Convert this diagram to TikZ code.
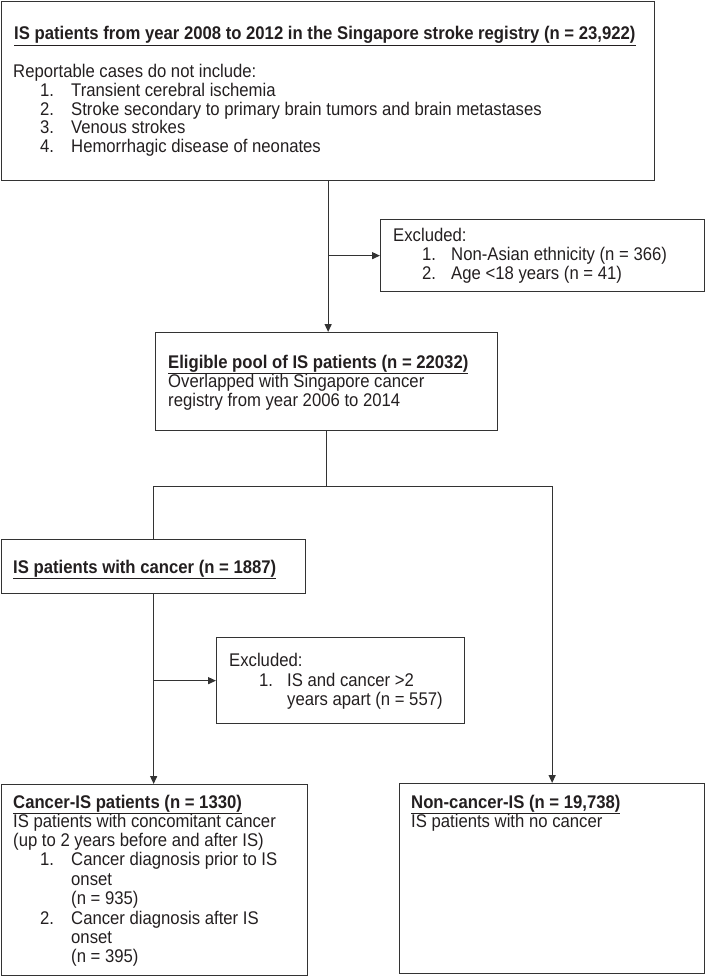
\documentclass[tikz,border=0pt]{standalone}
\usepackage{fontspec}
\setmainfont[FakeStretch=0.91]{Liberation Sans}
\usetikzlibrary{arrows.meta,calc}
\definecolor{linec}{HTML}{333333}
\definecolor{txtc}{HTML}{231F20}
\begin{document}
\begin{tikzpicture}[x=1pt,y=-1pt,
  box/.style={draw=linec, line width=1.3pt, inner sep=0pt, anchor=north west},
  txt/.style={anchor=base west, inner sep=0pt, text=txtc, font=\fontsize{18.35}{19}\selectfont},
  ttl/.style={txt, font=\fontsize{18.35}{19}\selectfont\bfseries},
  conn/.style={draw=linec, line width=1.3pt},
  arr/.style={conn, -{Triangle[length=8pt,width=7pt]}}]
\useasboundingbox (0,0) rectangle (705,976);
% boxes
\node[box, minimum width=653pt, minimum height=179pt] (b1) at (1,1) {};
\node[box, minimum width=324pt, minimum height=72pt] (ex1) at (380,219) {};
\node[box, minimum width=342pt, minimum height=98pt] (b2) at (155,332) {};
\node[box, minimum width=304pt, minimum height=54pt] (can) at (1,539) {};
\node[box, minimum width=248pt, minimum height=86pt] (ex2) at (216,637) {};
\node[box, minimum width=306pt, minimum height=191pt] (cis) at (1,784) {};
\node[box, minimum width=305pt, minimum height=190pt] (ncis) at (399,783) {};
% top box text
\node[ttl] (t1) at (14,40) {\underline{IS patients from year 2008 to 2012 in the Singapore stroke registry (n = 23,922)}};
\node[txt] (t2) at (13,78) {Reportable cases do not include:};
\node[txt] (n1) at (40,97) {1.};
\node[txt] (i1) at (71,97) {Transient cerebral ischemia};
\node[txt] (n2) at (40,115.5) {2.};
\node[txt] (i2) at (71,115.5) {Stroke secondary to primary brain tumors and brain metastases};
\node[txt] (n3) at (40,134) {3.};
\node[txt] (i3) at (71,134) {Venous strokes};
\node[txt] (n4) at (40,153) {4.};
\node[txt] (i4) at (71,153) {Hemorrhagic disease of neonates};
% excluded 1
\node[txt] (e1) at (393,241) {Excluded:};
\node[txt] (e1n1) at (422,260) {1.};
\node[txt] (e1i1) at (451,260) {Non-Asian ethnicity (n = 366)};
\node[txt] (e1n2) at (422,279) {2.};
\node[txt] (e1i2) at (451,279) {Age <18 years (n = 41)};
% eligible pool
\node[ttl] (p1) at (168,368) {\underline{Eligible pool of IS patients (n = 22032)}};
\node[txt] (p2) at (168,387) {Overlapped with Singapore cancer};
\node[txt] (p3) at (168,406) {registry from year 2006 to 2014};
% with cancer
\node[ttl] (c1) at (13,573) {\underline{IS patients with cancer (n = 1887)}};
% excluded 2
\node[txt] (e2) at (229,666) {Excluded:};
\node[txt] (e2n1) at (259,686) {1.};
\node[txt] (e2i1) at (287,686) {IS and cancer >2};
\node[txt] (e2i2) at (287,705) {years apart (n = 557)};
% cancer-IS
\node[ttl] (k1) at (13,808) {\underline{Cancer-IS patients (n = 1330)}};
\node[txt] (k2) at (13,827) {IS patients with concomitant cancer};
\node[txt] (k3) at (13,846) {(up to 2 years before and after IS)};
\node[txt] (kn1) at (40,865) {1.};
\node[txt] (ki1) at (71,865) {Cancer diagnosis prior to IS};
\node[txt] (ki2) at (71,885) {onset};
\node[txt] (ki3) at (71,904) {(n = 935)};
\node[txt] (kn2) at (40,924) {2.};
\node[txt] (ki4) at (71,924) {Cancer diagnosis after IS};
\node[txt] (ki5) at (71,943) {onset};
\node[txt] (ki6) at (71,962) {(n = 395)};
% non-cancer
\node[ttl] (m1) at (411,808) {\underline{Non-cancer-IS (n = 19,738)}};
\node[txt] (m2) at (411,827) {IS patients with no cancer};
% connectors
\coordinate (j1) at (b1.south |- ex1.west);
\coordinate (j2) at ($(b2.south)+(0,55)$);
\coordinate (jl) at (can.north |- j2);
\coordinate (jr) at (ncis.north |- j2);
\coordinate (j3) at (can.south |- ex2.west);
\draw[arr] (b1.south) -- (b1.south |- b2.north);
\draw[arr] (j1) -- (ex1.west);
\draw[conn] (b2.south) -- (j2);
\draw[conn] (jl) -- (jr);
\draw[conn] (jl) -- (can.north);
\draw[arr] (jr) -- (ncis.north);
\draw[arr] (can.south) -- (can.south |- cis.north);
\draw[arr] (j3) -- (ex2.west);
\end{tikzpicture}
\end{document}
